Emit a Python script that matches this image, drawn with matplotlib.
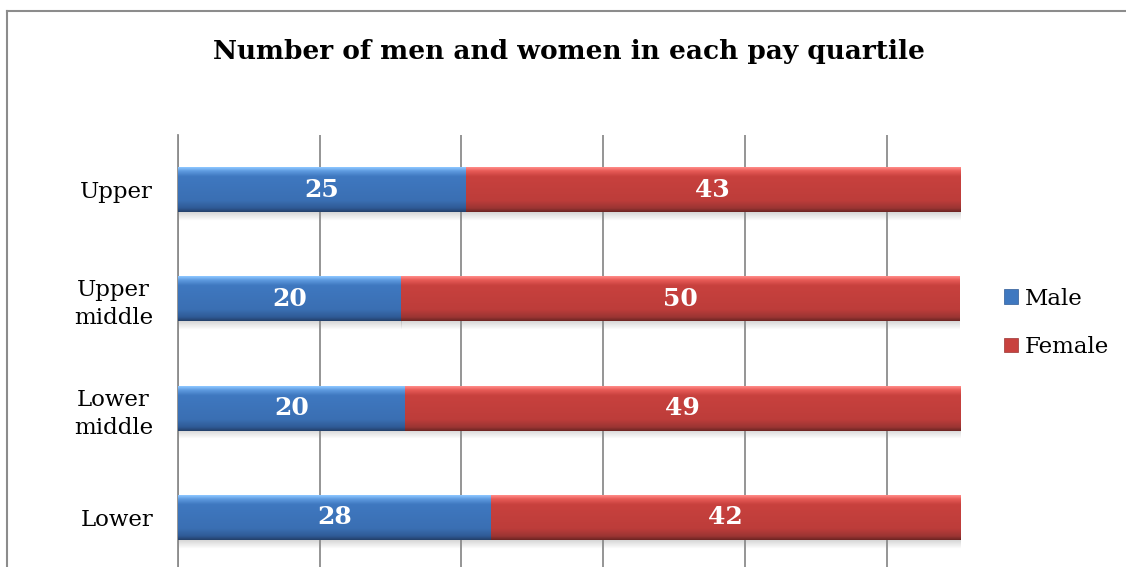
import numpy as np
import matplotlib
matplotlib.use("Agg")
import matplotlib.pyplot as plt
from matplotlib.colors import LinearSegmentedColormap
from matplotlib.patches import Patch

# pay quartiles, top to bottom as drawn
quartiles = ["Upper", "Upper\nmiddle", "Lower\nmiddle", "Lower"]
male = [25, 20, 20, 28]
female = [43, 50, 49, 42]

plt.rcParams['font.family'] = ['DejaVu Serif']

fig = plt.figure(figsize=(11.26, 5.67), dpi=100)
fig.patch.set_facecolor("white")

# outer chart border (only top and left are visible in the crop)
fig.add_artist(plt.Line2D([7 / 1126, 1.0], [1 - 11 / 567, 1 - 11 / 567], color="#8c8c8c", lw=1.5))
fig.add_artist(plt.Line2D([7 / 1126, 7 / 1126], [0.0, 1 - 11 / 567], color="#8c8c8c", lw=1.5))

ax = fig.add_axes([178 / 1126, -5 / 567, 782 / 1126, 437 / 567])

male_arr = np.array(male, dtype=float)
female_arr = np.array(female, dtype=float)
total = male_arr + female_arr
male_pct = male_arr / total * 100
female_pct = female_arr / total * 100

y = np.arange(len(quartiles))[::-1]
bar_h = 0.41

blue_cm = LinearSegmentedColormap.from_list(
    "b", [(0, "#8cc6ff"), (0.08, "#5f9be0"), (0.2, "#3f78c0"), (0.75, "#3a6fb3"), (0.92, "#2f5a95"), (1, "#24416b")])
red_cm = LinearSegmentedColormap.from_list(
    "r", [(0, "#ff8a87"), (0.08, "#e85b57"), (0.2, "#c8413e"), (0.75, "#bd3d3a"), (0.92, "#9b3533"), (1, "#6e2523")])

grad = np.linspace(0, 1, 64).reshape(-1, 1)
shadow = np.linspace(0.35, 0, 16).reshape(-1, 1)


def shade(bars, cmap):
    for b in bars:
        x0, y0 = b.get_x(), b.get_y()
        w, h = b.get_width(), b.get_height()
        # soft shadow under the bar
        sh = np.dstack([np.full_like(shadow, 0.55)] * 3 + [shadow])
        ax.imshow(sh, aspect="auto", extent=[x0, x0 + w, y0 - 0.08, y0], origin="upper",
                  zorder=2, interpolation="bilinear")
        im = ax.imshow(grad, cmap=cmap, aspect="auto", extent=[x0, x0 + w, y0, y0 + h],
                       origin="upper", zorder=3, interpolation="bilinear")
        im.set_clip_path(b)


bm = ax.barh(y, male_pct, height=bar_h, color="#3f78c0", zorder=3, label="Male")
bf = ax.barh(y, female_pct, left=male_pct, height=bar_h, color="#c8413e", zorder=3, label="Female")
shade(bm, blue_cm)
shade(bf, red_cm)

for yi, mp, fp, mv, fv in zip(y, male_pct, female_pct, male, female):
    ax.text(mp / 2, yi, str(mv), ha="center", va="center", color="white",
            fontsize=18, fontweight="bold", zorder=5)
    ax.text(mp + fp / 2, yi, str(fv), ha="center", va="center", color="white",
            fontsize=18, fontweight="bold", zorder=5)

ax.set_xlim(0, 100)
ax.set_ylim(-0.5, len(quartiles) - 0.5)
step = 100 * 141.7 / 782
ax.set_xticks(np.arange(0, 100, step))
ax.xaxis.grid(True, color="#8c8c8c", lw=1.3, zorder=0)
ax.set_axisbelow(True)
ax.tick_params(axis="x", length=0, labelbottom=False)
ax.tick_params(axis="y", length=0, pad=18)
ax.set_yticks(y)
ax.set_yticklabels(quartiles, fontsize=16.5, linespacing=1.35, multialignment="center")
for s in ax.spines.values():
    s.set_visible(False)
ax.spines["left"].set_visible(True)
ax.spines["left"].set_color("#8c8c8c")
ax.spines["left"].set_linewidth(1.3)

fig.text(569 / 1126, 1 - 51 / 567, "Number of men and women in each pay quartile",
         ha="center", va="center", fontsize=19, fontweight="bold")

handles = [Patch(facecolor="#3f78c0", edgecolor="#2f5a95", lw=0.5),
           Patch(facecolor="#c8413e", edgecolor="#9b3533", lw=0.5)]
fig.legend(handles, ["Male", "Female"], loc="center left", bbox_to_anchor=(1004 / 1126, 1 - 323 / 567),
           frameon=False, fontsize=16.5, handlelength=0.6, handleheight=0.6, handletextpad=0.3,
           labelspacing=1.15, borderpad=0, borderaxespad=0)

fig.savefig("out.png", dpi=100, facecolor="white")
